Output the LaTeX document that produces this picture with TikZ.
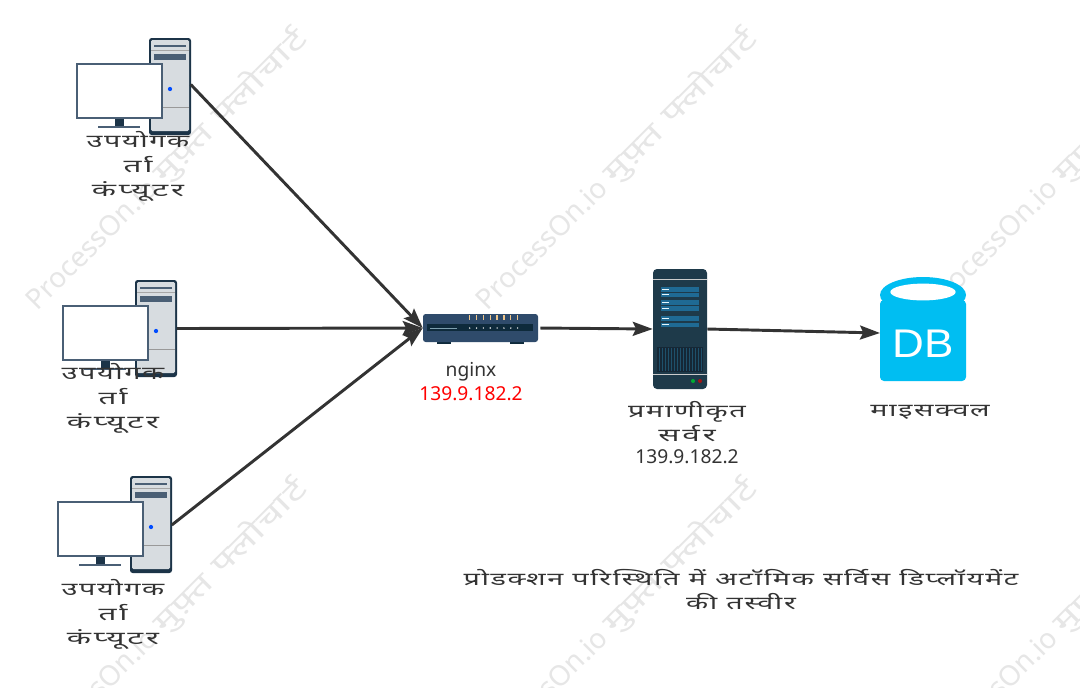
\documentclass[tikz,border=0pt]{standalone}
\usepackage{fontspec}
\setmainfont{Noto Sans}
\newfontfamily\hifont[Script=Devanagari,FakeStretch=1.6,LetterSpace=9]{Noto Sans}
\newfontfamily\hiwide[Script=Devanagari,FakeStretch=1.75,LetterSpace=16]{Noto Sans}
\newfontfamily\wmhi[Script=Devanagari,FakeStretch=1.45,LetterSpace=3]{Noto Sans}
\newfontfamily\dbfont[FakeStretch=1.1]{Liberation Sans}
\usetikzlibrary{arrows.meta}
\definecolor{edgec}{HTML}{333333}
\definecolor{navy}{HTML}{1C3448}
\definecolor{slatec}{HTML}{4A5F75}
\definecolor{towerc}{HTML}{D7DCE0}
\definecolor{routerc}{HTML}{2F4B6B}
\definecolor{routerd}{HTML}{0E2A3B}
\definecolor{ledc}{HTML}{F0C68A}
\definecolor{serverc}{HTML}{1E3A4A}
\definecolor{rowc}{HTML}{1F6A94}
\definecolor{dbc}{HTML}{00BEF2}
\definecolor{wmc}{HTML}{E6E6E6}
\tikzset{
  link/.style={draw=edgec,line width=2.2pt,-{Stealth[length=15pt,width=10.5pt,inset=2.5pt]}},
  lbl/.style={align=center,inner sep=0pt,text=edgec,font=\hifont\fontsize{13.5}{18.4}\selectfont},
  iptext/.style={align=center,inner sep=0pt,text=edgec,font=\fontsize{14.4}{18.4}\selectfont},
  wmark/.style={rotate=45,inner sep=0pt,text=wmc,font=\fontsize{21}{24}\selectfont},
  iconbox/.style={inner sep=0pt,minimum width=86.25pt,minimum height=72.75pt},
}
\newcommand{\widehi}[1]{{\hiwide\fontsize{13.5}{18.4}\selectfont #1}}
\newcommand{\pcicon}[2]{%
\begin{scope}[shift={(#1,#2)}]
  \fill[navy,rounded corners=2pt] (149,38) rectangle (191,135);
  \fill[towerc,rounded corners=1pt] (151,40) rectangle (189,131);
  \fill[slatec] (154,45) rectangle (186,47);
  \fill[gray!70] (151,50) rectangle (189,51);
  \fill[slatec] (154,54) rectangle (186,60);
  \fill[gray!80] (151,107) rectangle (189,108);
  \fill[blue!70!cyan] (170,89) circle (1.6pt);
  \fill[navy] (115,118) rectangle (124,126);
  \fill[slatec] (98,125.5) rectangle (140,128);
  \draw[slatec,fill=white,line width=1.2pt] (77,64) rectangle (162,118);
\end{scope}}
\begin{document}
\begin{tikzpicture}[x=0.75pt,y=-0.75pt]
\useasboundingbox (0,0) rectangle (1080,687);
\fill[white] (0,0) rectangle (1080,687);
% watermarks
\foreach \n/\cx/\cy in {a/167/170,b/617/170,c/1067/170,d/167/620,e/617/620,f/1067/620}{
  \node[wmark] (wm\n) at (\cx,\cy) {ProcessOn.io {\wmhi मुफ़्त फ्लोचार्ट}};
}
% computers
\pcicon{0}{0}
\pcicon{-14}{242}
\pcicon{-19}{438}
\node[iconbox] (pc1) at (133,84.5) {};
\node[iconbox] (pc2) at (119,328.5) {};
\node[iconbox] (pc3) at (114,525) {};
\node[lbl] (pc1l) at (138,166.5) {उपयोगक\\\widehi{र्ता}\\\widehi{कंप्यूटर}};
\node[lbl] (pc2l) at (113,398.5) {उपयोगक\\\widehi{र्ता}\\\widehi{कंप्यूटर}};
\node[lbl] (pc3l) at (113,614.5) {उपयोगक\\\widehi{र्ता}\\\widehi{कंप्यूटर}};
% router
\fill[routerd] (437,340) rectangle (451,344);
\fill[routerd] (510,340) rectangle (524,344);
\node[inner sep=0pt,minimum width=86.25pt,minimum height=21pt,fill=routerc,rounded corners=2pt] (router) at (480.5,328) {};
\fill[routerd] (427,324) rectangle (533,331);
\fill[cyan!30!gray] (430,327.6) rectangle (457,328.6);
\foreach \i in {0,...,7}{
  \fill[ledc] ({469+6.85*\i},315) rectangle ({470.3+6.85*\i},320);
  \fill[white!85!gray] ({469.7+6.85*\i},328) circle (0.6pt);
}
% server
\node[inner sep=0pt,minimum width=40.5pt,minimum height=90pt,fill=serverc,rounded corners=3pt] (server) at (680,329) {};
\fill[gray!40] (653,278.5) rectangle (707,279.7);
\foreach \ya/\yb in {287/291.5,292.5/297,300/304.5,306/310.5,316/320.5,322.5/327}{
  \fill[rowc] (661,\ya) rectangle (699,\yb);
  \fill[white!90!cyan] (662,{(\ya+\yb)/2-0.5}) rectangle (669,{(\ya+\yb)/2+0.5});
}
\fill[navy!75!black] (657,347) rectangle (703,372);
\foreach \i in {0,...,14}{
  \fill[rowc!45!serverc] ({658.5+3*\i},348) rectangle ({659.5+3*\i},371);
}
\fill[gray!40] (653,373.5) rectangle (707,375);
\fill[green!60!black!80!cyan] (693,381) circle (1.5pt);
\fill[red!60!black!90!pink] (700,381) circle (1.5pt);
% database
\fill[dbc,rounded corners=3pt] (880,300) -- (880,381) -- (966,381) -- (966,300) -- cycle;
\fill[dbc] (923,295) ellipse (32.25pt and 13.5pt);
\fill[white] (923,292) ellipse (24.5pt and 6.3pt);
\node[inner sep=0pt,minimum width=64.5pt,minimum height=78pt] (db) at (923,329) {};
\node[inner sep=0pt,text=white,font=\dbfont\fontsize{30}{30}\selectfont] (dbt) at (923.5,344) {DB};
\coordinate (dbin) at (880,333);
% labels
\node[iptext] (rl) at (471,381.5) {nginx\\\textcolor{red}{139.9.182.2}};
\node[lbl] (sl) at (687,421.5) {प्रमाणीकृत\\\widehi{सर्वर}};
\node[iptext] (sip) at (687,457) {139.9.182.2};
\node[lbl] (dl) at (930,412) {माइसक्वल};
\node[lbl] (title) at (741,589.5) {प्रोडक्शन परिस्थिति में अटॉमिक सर्विस डिप्लॉयमेंट\\की तस्वीर};
% connectors
\draw[link] (pc1.east) -- (router.west);
\draw[link] (pc2.east) -- (router.west);
\draw[link] (pc3.east) -- (router.west);
\draw[link,shorten <=1.5pt] (router.east) -- (server.west);
\draw[link] (server.east) -- (dbin);
\end{tikzpicture}
\end{document}
